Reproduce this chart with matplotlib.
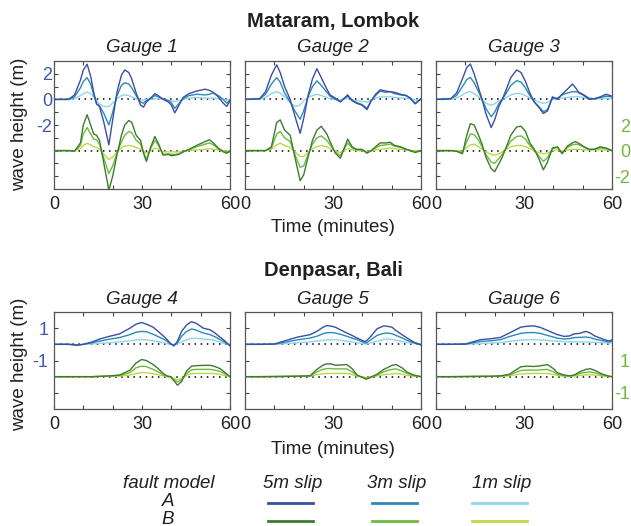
import matplotlib
matplotlib.use("Agg")
import matplotlib.pyplot as plt
from matplotlib.lines import Line2D

plt.rcParams['font.family'] = ['Liberation Sans', 'DejaVu Sans']

# ---- data (wave height in m) ----
# Mataram, Lombok
t_g1 = [0, 5, 7, 9, 10, 11.3, 12.5, 13.5, 14.5, 15.5, 17, 18.7, 20, 21.5, 23, 24.1, 25.5, 26.5, 28, 29.5,
        30.5, 31.5, 33, 34.4, 35.5, 37.2, 39, 40, 41.2, 42.5, 44, 46, 48.6, 51.5, 53, 54.3, 56, 57.7, 58.9, 60]
g1_a5 = [0, 0, 0.35, 1.5, 2.3, 2.75, 1.8, 0.6, -0.35, -0.55, -1.8, -3.55, -1.6, 0.6, 1.9, 2.3, 2.1, 1.6, 0.5, -0.45,
         -0.6, -0.2, 0.1, 0.45, 0.3, 0.0, -0.2, -0.45, -1.05, -0.5, 0.15, 0.45, 0.65, 0.8, 0.7, 0.55, 0.2, -0.3, -0.55, -0.1]
g1_a3 = [0, 0, 0.2, 0.9, 1.4, 1.7, 1.2, 0.4, -0.35, -0.5, -1.1, -2.0, -1.0, 0.3, 1.1, 1.3, 1.2, 0.9, 0.3, -0.2,
         -0.3, -0.1, 0.1, 0.3, 0.2, 0.05, -0.1, -0.25, -0.7, -0.35, 0.05, 0.3, 0.4, 0.35, 0.4, 0.5, 0.3, 0.0, -0.3, -0.05]
g1_a1 = [0, 0, 0.05, 0.3, 0.45, 0.57, 0.45, 0.2, -0.1, -0.35, -0.55, -0.55, -0.3, 0.05, 0.3, 0.35, 0.3, 0.2, 0.05, -0.05,
         -0.05, 0, 0, 0.05, 0.05, 0, -0.05, -0.1, -0.15, -0.1, 0, 0.1, 0.15, 0.1, 0.1, 0.1, 0.05, 0, -0.05, 0]
g1_b5 = [0, 0, -0.05, 0.6, 2.0, 2.8, 2.0, 1.3, 1.2, 0.8, -1.0, -3.1, -2.0, -0.3, 1.2, 2.0, 2.35, 2.2, 1.2, 0.8,
         -0.2, -0.85, 0.3, 1.1, 0.6, -0.35, -0.3, -0.4, -0.35, -0.3, -0.1, 0.1, 0.4, 0.7, 0.85, 0.6, 0.2, -0.1, -0.2, -0.05]
g1_b3 = [0, 0, -0.05, 0.4, 1.3, 1.8, 1.3, 0.9, 0.85, 0.5, -0.6, -1.8, -1.2, -0.2, 0.7, 1.2, 1.5, 1.4, 0.8, 0.5,
         -0.1, -0.7, 0.2, 0.8, 0.45, -0.3, -0.25, -0.3, -0.3, -0.25, -0.1, 0.05, 0.3, 0.5, 0.6, 0.45, 0.15, -0.05, -0.15, -0.05]
g1_b1 = [0, 0, 0, 0.15, 0.4, 0.57, 0.45, 0.3, 0.25, 0.1, -0.3, -0.7, -0.5, -0.1, 0.2, 0.35, 0.4, 0.38, 0.25, 0.1,
         -0.05, -0.2, 0, 0.2, 0.1, -0.1, -0.1, -0.1, -0.1, -0.1, -0.05, 0, 0.05, 0.1, 0.15, 0.1, 0.05, 0, -0.05, 0]

t_g2 = [0, 5, 7, 9, 10.8, 12, 13.5, 15.4, 17, 18.8, 20, 21.5, 23, 24.5, 26, 27.9, 29, 30.8, 32.5, 35,
        36.5, 38, 39.9, 41.6, 43, 44.5, 46.1, 48, 49.5, 51, 53, 55, 56.4, 58, 60]
g2_a5 = [0, 0.05, 0.6, 1.9, 2.7, 2.1, 1.0, 0.0, -1.3, -2.65, -1.5, 0.3, 1.6, 2.4, 1.7, 0.8, 0.35, 0.1, -0.2, 0.35,
         -0.1, -0.3, -0.45, -0.8, -0.1, 0.4, 0.75, 0.65, 0.6, 0.55, 0.4, 0.3, 0.1, -0.35, 0.05]
g2_a3 = [0, 0.05, 0.4, 1.2, 1.7, 1.35, 0.5, -0.2, -0.9, -1.55, -0.9, 0.2, 1.0, 1.45, 1.1, 0.55, 0.25, 0.0, -0.15, 0.25,
         -0.05, -0.25, -0.4, -0.7, -0.1, 0.3, 0.65, 0.55, 0.6, 0.45, 0.35, 0.3, 0.05, -0.3, 0.05]
g2_a1 = [0, 0, 0.15, 0.45, 0.6, 0.5, 0.2, -0.25, -0.55, -0.45, -0.1, 0.15, 0.3, 0.4, 0.3, 0.15, 0.05, 0, -0.05, 0.1,
         0, -0.1, -0.15, -0.2, -0.05, 0.1, 0.2, 0.2, 0.2, 0.15, 0.1, 0.1, 0.05, -0.05, 0]
g2_b5 = [0, 0, 0, 0.3, 2.2, 2.4, 1.6, 1.2, -0.5, -2.35, -1.9, -0.5, 0.8, 1.6, 1.9, 1.3, 0.7, -0.2, -0.6, 0.9,
         0.3, 0.1, 0.1, -0.2, 0.0, 0.3, 0.6, 0.6, 0.65, 0.4, 0.3, 0.1, 0.0, -0.15, 0]
g2_b3 = [0, 0, 0, 0.2, 1.3, 1.5, 1.0, 0.7, -0.3, -1.3, -1.2, -0.3, 0.5, 1.0, 1.15, 0.8, 0.45, -0.1, -0.4, 0.6,
         0.2, 0.05, 0.05, -0.15, 0, 0.2, 0.4, 0.45, 0.5, 0.35, 0.25, 0.1, 0, -0.1, 0]
g2_b1 = [0, 0, 0, 0.1, 0.45, 0.57, 0.4, 0.25, -0.1, -0.45, -0.45, -0.15, 0.15, 0.3, 0.4, 0.3, 0.15, -0.05, -0.15, 0.15,
         0.05, 0, 0, -0.05, -0.05, 0.05, 0.1, 0.15, 0.2, 0.15, 0.1, 0.05, 0, 0, 0]

t_g3 = [0, 5, 7, 9, 10.5, 11.7, 13, 14.5, 15.7, 17, 18.8, 20, 21.5, 22.6, 24, 25.5, 27.5, 29, 30.5, 32,
        33.5, 35, 36.6, 38, 39.7, 41.4, 43, 44.8, 46.5, 47.6, 48.8, 50.5, 52.2, 54, 56, 58, 60]
g3_a5 = [0, 0.05, 0.5, 1.6, 2.5, 2.77, 2.0, 0.9, 0.0, -1.1, -2.2, -1.6, -0.5, 0, 0.8, 1.7, 2.3, 2.1, 1.4, 0.5,
         -0.2, -0.6, -1.1, -0.9, 0.2, 0.0, 0.4, 0.8, 1.2, 0.9, 0.5, 0.3, 0.0, 0.05, 0.2, 0.4, 0.25]
g3_a3 = [0, 0.05, 0.3, 1.0, 1.55, 1.72, 1.3, 0.6, 0.0, -0.7, -1.35, -1.0, -0.3, 0, 0.5, 1.1, 1.46, 1.35, 0.9, 0.3,
         -0.2, -0.55, -0.95, -0.8, 0.1, 0.1, 0.35, 0.5, 0.6, 0.6, 0.55, 0.35, 0.1, 0.05, 0.15, 0.25, 0.2]
g3_a1 = [0, 0, 0.1, 0.35, 0.55, 0.6, 0.45, 0.2, 0.0, -0.3, -0.45, -0.35, -0.1, 0, 0.15, 0.35, 0.47, 0.43, 0.3, 0.1,
         -0.05, -0.2, -0.3, -0.25, 0, 0.05, 0.1, 0.15, 0.2, 0.2, 0.2, 0.15, 0.05, 0.05, 0.05, 0.1, 0.05]
g3_b5 = [0, 0, -0.05, -0.25, 1.2, 2.1, 2.0, 1.2, 0.5, -0.5, -1.4, -1.65, -1.0, -0.5, 0.3, 1.2, 1.85, 1.9, 1.5, 0.6,
         0.1, -0.6, -1.5, -0.9, 0.2, 0.3, -0.25, 0.35, 0.6, 0.7, 0.55, 0.3, 0.1, 0.1, 0.3, 0.2, 0]
g3_b3 = [0, 0, -0.05, -0.15, 0.7, 1.3, 1.25, 0.8, 0.3, -0.3, -0.9, -1.0, -0.6, -0.3, 0.2, 0.75, 1.1, 1.15, 0.9, 0.4,
         0.05, -0.4, -0.85, -0.55, 0.15, 0.25, -0.15, 0.25, 0.45, 0.5, 0.45, 0.25, 0.1, 0.1, 0.2, 0.15, 0]
g3_b1 = [0, 0, 0, -0.05, 0.25, 0.45, 0.5, 0.3, 0.1, -0.1, -0.3, -0.35, -0.25, -0.1, 0.1, 0.3, 0.4, 0.4, 0.3, 0.15,
         0, -0.15, -0.25, -0.2, 0, 0.05, -0.05, 0.05, 0.1, 0.1, 0.1, 0.05, 0.05, 0.05, 0.05, 0.05, 0]

# Denpasar, Bali
t_g4 = [0, 5, 8, 10, 13, 15.6, 19, 22.4, 25.9, 28, 29.8, 31.5, 33.8, 35.5, 37.2, 38.5, 39.7, 40.9, 42.1, 43.5,
        45.2, 46.9, 48.5, 50.9, 53.2, 54.5, 56.6, 58, 60]
g4_a5 = [0, 0, -0.05, 0, 0.15, 0.33, 0.5, 0.65, 1.0, 1.25, 1.35, 1.25, 1.06, 0.8, 0.53, 0.3, 0.05, -0.1, 0.2, 0.8,
         1.2, 1.4, 1.3, 1.0, 0.9, 0.75, 0.45, 0.25, -0.1]
g4_a3 = [0, 0, -0.05, 0, 0.1, 0.2, 0.32, 0.42, 0.6, 0.75, 0.8, 0.78, 0.62, 0.48, 0.33, 0.2, 0.02, -0.05, 0.1, 0.5,
         0.8, 0.95, 0.88, 0.7, 0.6, 0.5, 0.3, 0.15, -0.05]
g4_a1 = [0, 0, -0.02, 0, 0.03, 0.06, 0.1, 0.15, 0.22, 0.27, 0.29, 0.28, 0.22, 0.17, 0.1, 0.05, 0, -0.02, 0.03, 0.15,
         0.28, 0.37, 0.38, 0.33, 0.3, 0.25, 0.15, 0.05, 0]
g4_b5 = [0, 0, 0, 0, 0, 0.02, 0.05, 0.1, 0.4, 0.85, 1.06, 1.0, 0.75, 0.5, 0.2, 0.05, 0, -0.25, -0.53, -0.3,
         0.35, 0.65, 0.68, 0.7, 0.7, 0.65, 0.5, 0.3, 0]
g4_b3 = [0, 0, 0, 0, 0, 0.02, 0.04, 0.08, 0.25, 0.55, 0.65, 0.62, 0.45, 0.3, 0.12, 0.02, -0.02, -0.2, -0.33, -0.2,
         0.2, 0.42, 0.45, 0.45, 0.45, 0.42, 0.32, 0.2, 0]
g4_b1 = [0, 0, 0, 0, 0, 0.01, 0.02, 0.04, 0.1, 0.2, 0.25, 0.24, 0.18, 0.12, 0.05, 0, -0.02, -0.1, -0.2, -0.12,
         0.08, 0.18, 0.2, 0.2, 0.2, 0.19, 0.14, 0.08, 0]

t_g5 = [0, 5, 10, 14.2, 18, 22.2, 24.5, 26.5, 27.9, 29.5, 30.8, 32.5, 34.7, 36.5, 38.2, 40.7, 41.3, 42.7, 45, 47.3,
        48.5, 50.1, 51.5, 53.5, 55.2, 57.5, 60]
g5_a5 = [0, 0, 0.02, 0.25, 0.45, 0.6, 0.8, 1.05, 1.16, 1.12, 1.06, 0.9, 0.7, 0.55, 0.39, 0.18, 0.2, 0.45, 0.96, 1.14,
         1.12, 1.06, 0.85, 0.6, 0.4, 0.14, -0.05]
g5_a3 = [0, 0, 0.01, 0.15, 0.28, 0.39, 0.5, 0.65, 0.72, 0.73, 0.7, 0.62, 0.5, 0.38, 0.29, 0.1, 0.08, 0.25, 0.55, 0.68,
         0.7, 0.66, 0.55, 0.4, 0.25, 0.1, 0]
g5_a1 = [0, 0, 0, 0.05, 0.1, 0.15, 0.2, 0.25, 0.27, 0.28, 0.28, 0.25, 0.2, 0.15, 0.1, 0.03, 0.02, 0.08, 0.2, 0.3,
         0.33, 0.3, 0.25, 0.18, 0.12, 0.05, 0]
g5_b5 = [0, 0, 0.01, 0.02, 0.03, 0.05, 0.45, 0.7, 0.8, 0.78, 0.71, 0.72, 0.75, 0.5, 0.1, -0.1, -0.16, -0.05, 0.15, 0.45,
         0.55, 0.7, 0.75, 0.55, 0.29, 0.1, 0]
g5_b3 = [0, 0, 0.01, 0.02, 0.03, 0.04, 0.3, 0.45, 0.5, 0.5, 0.48, 0.48, 0.48, 0.3, 0.08, -0.08, -0.12, -0.04, 0.1, 0.3,
         0.38, 0.45, 0.48, 0.35, 0.2, 0.07, 0]
g5_b1 = [0, 0, 0, 0.01, 0.02, 0.03, 0.12, 0.18, 0.2, 0.2, 0.2, 0.2, 0.2, 0.13, 0.03, -0.04, -0.06, -0.02, 0.05, 0.12,
         0.15, 0.18, 0.2, 0.15, 0.08, 0.03, 0]

t_g6 = [0, 5, 10, 15.2, 19, 22, 25, 28.9, 31, 33.4, 35.5, 38, 40, 41.4, 43.7, 45.5, 47.1, 49, 51.1, 52.6,
        54, 56.8, 59, 60]
g6_a5 = [0, 0, 0.02, 0.29, 0.35, 0.43, 0.7, 1.06, 1.12, 1.14, 1.05, 0.86, 0.7, 0.6, 0.49, 0.52, 0.65, 0.68, 0.8, 0.7,
         0.53, 0.33, 0.2, 0.28]
g6_a3 = [0, 0, 0.01, 0.18, 0.22, 0.29, 0.48, 0.68, 0.72, 0.73, 0.68, 0.55, 0.45, 0.38, 0.33, 0.35, 0.42, 0.43, 0.45, 0.42,
         0.33, 0.22, 0.15, 0.2]
g6_a1 = [0, 0, 0, 0.06, 0.08, 0.11, 0.18, 0.26, 0.28, 0.29, 0.27, 0.24, 0.21, 0.19, 0.17, 0.16, 0.15, 0.15, 0.14, 0.13,
         0.12, 0.1, 0.08, 0.1]
g6_b5 = [0, 0, 0.01, 0.02, 0.03, 0.05, 0.15, 0.61, 0.65, 0.63, 0.67, 0.75, 0.5, 0.24, 0.1, 0.05, 0.1, 0.3, 0.45, 0.49,
         0.4, 0.15, 0.03, 0]
g6_b3 = [0, 0, 0.01, 0.02, 0.02, 0.04, 0.1, 0.38, 0.41, 0.4, 0.42, 0.45, 0.3, 0.15, 0.06, 0.04, 0.08, 0.2, 0.27, 0.29,
         0.24, 0.1, 0.02, 0]
g6_b1 = [0, 0, 0, 0.01, 0.01, 0.02, 0.05, 0.17, 0.19, 0.2, 0.2, 0.2, 0.14, 0.07, 0.03, 0.02, 0.04, 0.08, 0.11, 0.12,
         0.1, 0.04, 0.01, 0]

gauge_names = ['Gauge 1', 'Gauge 2', 'Gauge 3', 'Gauge 4', 'Gauge 5', 'Gauge 6']
slip_labels = ['5m slip', '3m slip', '1m slip']
blues = ['#3a4ea3', '#2a8ab8', '#8fd4f0']
greens = ['#3f7a30', '#6cbd3c', '#bcd84a']
blue_txt = '#3f5aa9'
green_txt = '#74b843'
txt = '#231f20'

gauges = [
    (t_g1, [g1_a5, g1_a3, g1_a1], [g1_b5, g1_b3, g1_b1]),
    (t_g2, [g2_a5, g2_a3, g2_a1], [g2_b5, g2_b3, g2_b1]),
    (t_g3, [g3_a5, g3_a3, g3_a1], [g3_b5, g3_b3, g3_b1]),
    (t_g4, [g4_a5, g4_a3, g4_a1], [g4_b5, g4_b3, g4_b1]),
    (t_g5, [g5_a5, g5_a3, g5_a1], [g5_b5, g5_b3, g5_b1]),
    (t_g6, [g6_a5, g6_a3, g6_a1], [g6_b5, g6_b3, g6_b1]),
]

W, H = 631, 526
fig = plt.figure(figsize=(W / 100, H / 100), dpi=100)

lefts = [54, 245, 436]
row_box = [(61, 189), (312, 409)]   # top / bottom pixel of each row
offsets = [-4, -2]                  # fault model B drawn below A
ylims = [(-7, 3), (-4, 2)]
fs = 13


def fx(px):
    return px / W


def fy(py):
    return 1 - py / H


for i, (t, a_series, b_series) in enumerate(gauges):
    row, col = divmod(i, 3)
    top, bot = row_box[row]
    ax = fig.add_axes([fx(lefts[col]), fy(bot), 176 / W, (bot - top) / H])
    off = offsets[row]

    ax.plot([0, 60], [0, 0], color='k', ls=(0, (1, 3)), lw=1.1, zorder=1)
    ax.plot([0, 60], [off, off], color='k', ls=(0, (1, 3)), lw=1.1, zorder=1)
    for k in [2, 1, 0]:
        ax.plot(t, a_series[k], color=blues[k], lw=1.0, zorder=2 + (2 - k))
        ax.plot(t, [v + off for v in b_series[k]], color=greens[k], lw=1.0, zorder=2 + (2 - k))

    ax.set_xlim(0, 60)
    ax.set_ylim(*ylims[row])
    ax.set_xticks(range(0, 61, 10), ['0', '', '', '30', '', '', '60'])

    if row == 0:
        yt = list(range(-6, 3))
        ylab = {2: '2', 0: '0', -2: '-2'}
        ypad = 1.5
    else:
        yt = [1, -1, -3]
        ylab = {1: '1', -1: '-1'}
        ypad = 4
    ax.set_yticks(yt, [ylab.get(v, '') if col == 0 else '' for v in yt])
    ax.tick_params(direction='in', length=3, width=0.8, color='#444444',
                   top=True, right=True, labelsize=fs)
    ax.tick_params(axis='y', pad=ypad, labelcolor=blue_txt)
    ax.tick_params(axis='x', pad=5, labelcolor=txt)
    for s in ax.spines.values():
        s.set_color('#555555')
        s.set_linewidth(0.9)

    if col == 2:
        axr = ax.twinx()
        axr.set_ylim(*ylims[row])
        if row == 0:
            gpos = [-2, -4, -6]
            glab = ['2', '0', '-2']
        else:
            gpos = [-1, -3]
            glab = ['1', '-1']
        axr.set_yticks(gpos, glab)
        axr.tick_params(axis='y', length=0, pad=13, labelsize=fs, labelcolor=green_txt)
        for lab in axr.get_yticklabels():
            lab.set_horizontalalignment('right')
        for s in axr.spines.values():
            s.set_visible(False)

    gy = 47 if row == 0 else 299
    fig.text(fx(lefts[col] + 88), fy(gy), gauge_names[i], ha='center', va='center',
             fontsize=13.5, style='italic', color=txt)

# row titles and axis labels
fig.text(fx(333), fy(21), 'Mataram, Lombok', ha='center', va='center',
         fontsize=14.5, fontweight='bold', color=txt)
fig.text(fx(333), fy(271), 'Denpasar, Bali', ha='center', va='center',
         fontsize=14.5, fontweight='bold', color=txt)
fig.text(fx(333), fy(227), 'Time (minutes)', ha='center', va='center', fontsize=13.5, color=txt)
fig.text(fx(333), fy(450), 'Time (minutes)', ha='center', va='center', fontsize=13.5, color=txt)
fig.text(fx(20), fy(124), 'wave height (m)', ha='center', va='center', rotation=90,
         fontsize=13.5, color=txt)
fig.text(fx(20), fy(364), 'wave height (m)', ha='center', va='center', rotation=90,
         fontsize=13.5, color=txt)

# legend block
fig.text(fx(169), fy(483), 'fault model', ha='center', va='center', fontsize=13.5,
         style='italic', color=txt)
fig.text(fx(168), fy(502), 'A', ha='center', va='center', fontsize=13.5, style='italic', color=txt)
fig.text(fx(168), fy(519), 'B', ha='center', va='center', fontsize=13.5, style='italic', color=txt)
leg_x = [(268, 313), (372, 417), (472, 527)]
for k, (x0, x1) in enumerate(leg_x):
    fig.text(fx((x0 + x1) / 2 + 2), fy(483), slip_labels[k], ha='center', va='center',
             fontsize=13.5, style='italic', color=txt)
    fig.add_artist(Line2D([fx(x0), fx(x1)], [fy(503), fy(503)], color=blues[k], lw=2,
                          transform=fig.transFigure))
    fig.add_artist(Line2D([fx(x0), fx(x1)], [fy(521), fy(521)], color=greens[k], lw=2,
                          transform=fig.transFigure))

fig.savefig('out.png', dpi=100)
